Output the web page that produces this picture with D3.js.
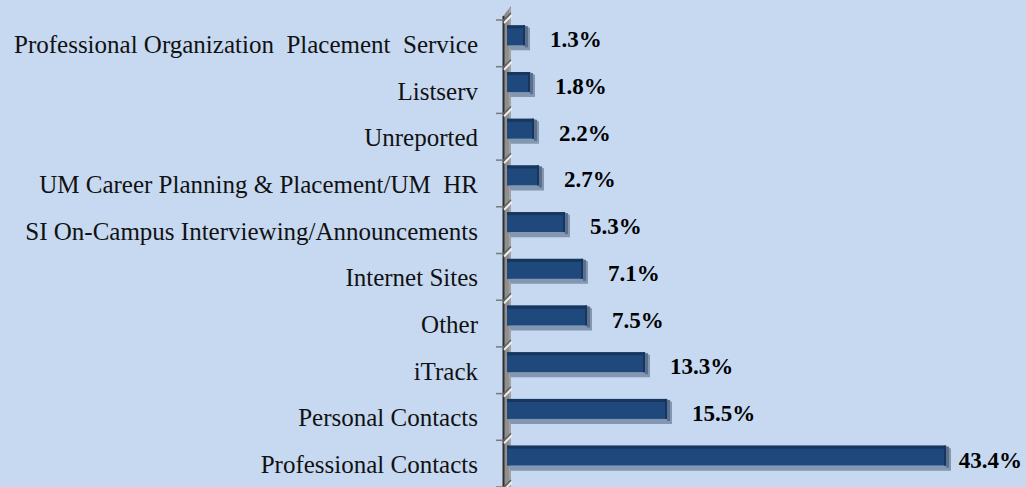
<!DOCTYPE html>
<html><head><meta charset="utf-8">
<script src="https://cdn.jsdelivr.net/npm/d3@7"></script>
<style>
html,body{margin:0;padding:0;background:#c6d9f1;}
svg{display:block;}
</style></head>
<body>
<svg id="chart" width="1026" height="487"></svg>
<script>
const categories = [
  "Professional Organization  Placement  Service",
  "Listserv",
  "Unreported",
  "UM Career Planning & Placement/UM  HR",
  "SI On-Campus Interviewing/Announcements",
  "Internet Sites",
  "Other",
  "iTrack",
  "Personal Contacts",
  "Professional Contacts"
];
const values = [1.3, 1.8, 2.2, 2.7, 5.3, 7.1, 7.5, 13.3, 15.5, 43.4];
const valueLabels = ["1.3%","1.8%","2.2%","2.7%","5.3%","7.1%","7.5%","13.3%","15.5%","43.4%"];

const W = 1026, H = 487;
const svg = d3.select("#chart");
svg.append("rect").attr("width", W).attr("height", H).attr("fill", "#c6d9f1");

const x = d3.scaleLinear().domain([0, 45]).range([512, 962]);
const y = d3.scaleBand().domain(categories).range([20, 487]).paddingInner(0).paddingOuter(0);

const depth = 5;
const barH = 20;
const barStart = x(0) - 5;

// axis wall
const axisG = svg.append("g");
const wl = 503, wr = 511;
axisG.append("path")
  .attr("d", `M${wl},${16} L${wr},${6} L${wr},${H} L${wl},${H} Z`)
  .attr("fill", "#8f8f8f");
axisG.append("line").attr("x1", wl + 0.5).attr("x2", wl + 0.5).attr("y1", 16).attr("y2", H)
  .attr("stroke", "#2e2e2e").attr("stroke-width", 2);
axisG.append("line").attr("x1", wr - 1).attr("x2", wr - 1).attr("y1", 8).attr("y2", H)
  .attr("stroke", "#a8a8a8").attr("stroke-width", 1.5);
const bounds = categories.map(c => y(c)).concat([y.range()[1]]);
bounds.forEach((b, i) => {
  axisG.append("line").attr("x1", wl - 7).attr("x2", wl + 1).attr("y1", b).attr("y2", b)
    .attr("stroke", "#7a7a7a").attr("stroke-width", 1.5);
  axisG.append("line").attr("x1", wl + 1).attr("x2", wr + 1).attr("y1", b + 3).attr("y2", b - 5)
    .attr("stroke", "#ececec").attr("stroke-width", 2);
  axisG.append("line").attr("x1", wl).attr("x2", wr).attr("y1", b + 1).attr("y2", b - 7)
    .attr("stroke", "#5c5c5c").attr("stroke-width", 1.3);
});

// bars
const barG = svg.append("g");
categories.forEach((c, i) => {
  const v = values[i];
  const yc = y(c) + y.bandwidth() / 2;
  const top = yc - 18;
  const xr = x(v);
  barG.append("path")
    .attr("d", `M${barStart + 2},${top + barH} L${xr},${top + barH} L${xr},${top} L${xr + depth},${top + 3} L${xr + depth},${top + barH + depth} L${barStart + 4},${top + barH + depth} Z`)
    .attr("fill", "#8497b0");
  barG.append("rect").attr("x", xr).attr("y", top + 1).attr("width", 3).attr("height", barH + 1)
    .attr("fill", "#5a6f8c");
  barG.append("rect").attr("x", barStart).attr("y", top).attr("width", xr - barStart).attr("height", barH)
    .attr("fill", "#1f497d");
  barG.append("rect").attr("x", barStart).attr("y", top).attr("width", xr - barStart).attr("height", 3)
    .attr("fill", "#17365d");
  barG.append("rect").attr("x", xr - 2).attr("y", top).attr("width", 2).attr("height", barH)
    .attr("fill", "#17365d");
});

// category labels
svg.append("g").selectAll("text").data(categories).join("text")
  .attr("x", 478)
  .attr("y", d => y(d) + y.bandwidth() / 2 + 9.5)
  .attr("text-anchor", "end")
  .attr("font-family", "'Liberation Serif', 'DejaVu Serif', serif")
  .attr("font-size", 25)
  .attr("fill", "#111")
  .style("white-space", "pre")
  .text(d => d);

// value labels
const vl = svg.append("g").selectAll("text").data(categories).join("text")
  .attr("y", (d, i) => y(d) + y.bandwidth() / 2 + 4)
  .attr("font-family", "'Liberation Serif', 'DejaVu Serif', serif")
  .attr("font-weight", "bold")
  .attr("font-size", 23)
  .attr("fill", "#000")
  .text((d, i) => valueLabels[i]);
vl.each(function(d, i) {
  const w = this.getComputedTextLength();
  let xs = x(values[i]) + 25;
  if (xs + w > W - 4) xs = W - 4 - w;
  d3.select(this).attr("x", xs);
});
</script>
</body></html>
